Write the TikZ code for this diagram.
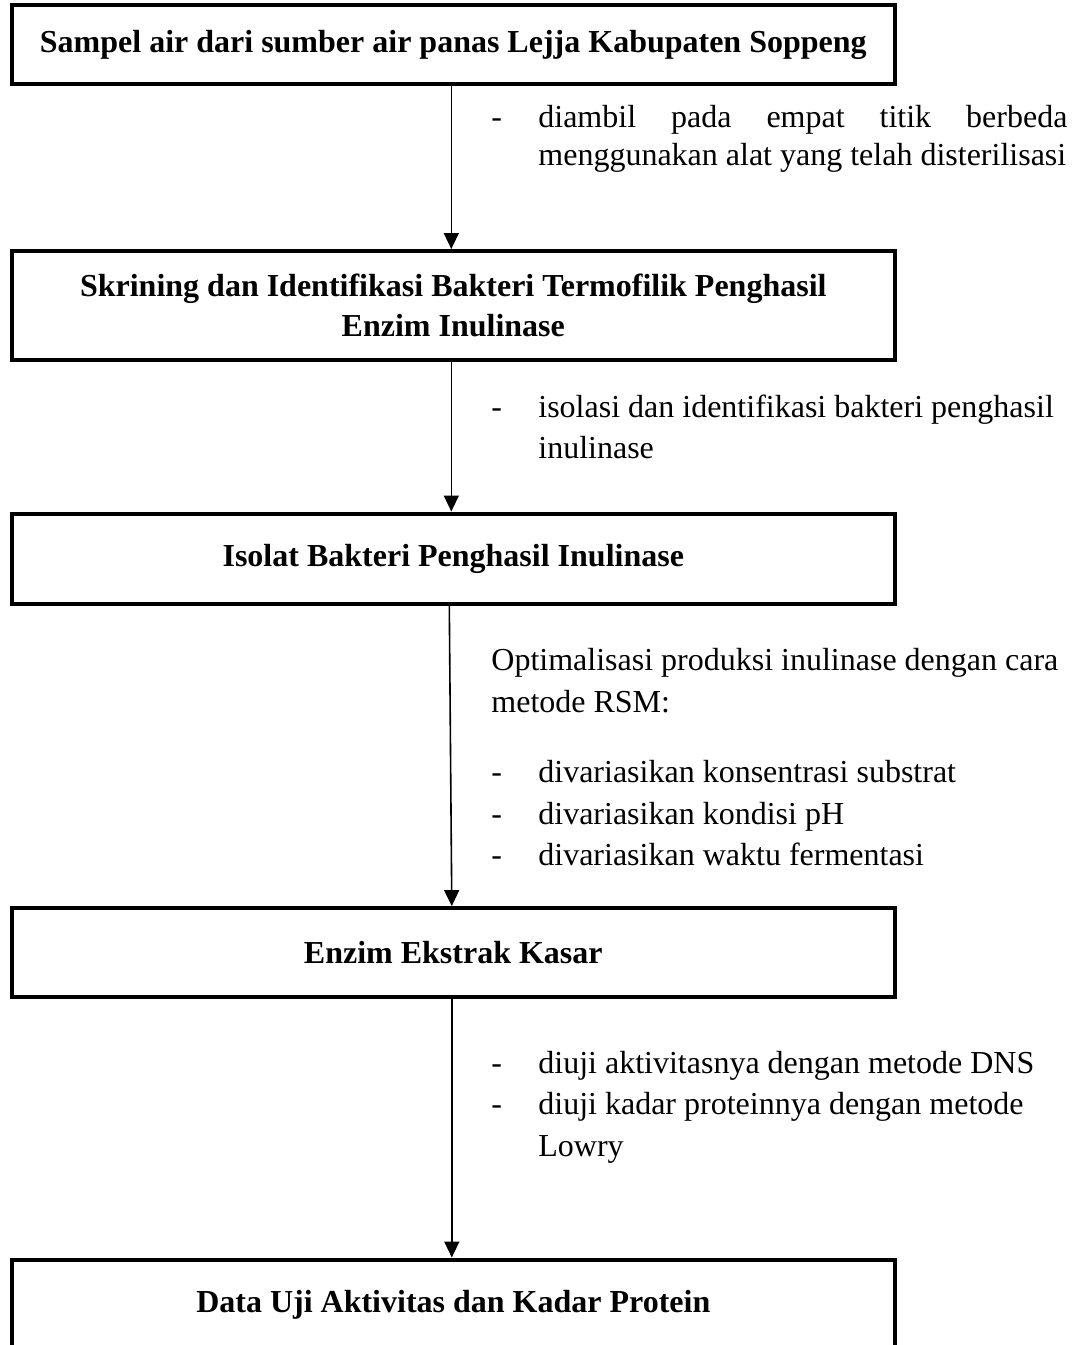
\documentclass[tikz,border=0pt]{standalone}
\usepackage{fontspec}
\setmainfont{Liberation Serif}
\usetikzlibrary{arrows.meta}
\newcommand\dashit{\makebox[23.5pt][l]{-}}
\begin{document}
\begin{tikzpicture}[x=0.5pt,y=-0.5pt,
  box/.style={draw, line width=2pt, minimum width=441.65pt, inner sep=0pt,
    font=\bfseries\fontsize{16pt}{20pt}\selectfont, align=center},
  side/.style={inner sep=0pt, anchor=base west, font=\fontsize{16pt}{20.5pt}\selectfont},
  conn/.style={line width=0.8pt, -{Triangle[length=8pt,width=7.5pt]}}]
\useasboundingbox (0,0) rectangle (1078,1345);
\clip (0,0) rectangle (1078,1345);

\node[box, minimum height=39.5pt] (b1) at (453.3,44.7) {Sampel air dari sumber air panas Lejja Kabupaten Soppeng};
\node[box, minimum height=54.5pt] (b2) at (453.3,305.5) {Skrining dan Identifikasi Bakteri Termofilik Penghasil\\Enzim Inulinase};
\node[box, minimum height=45pt] (b3) at (453.3,558.5) {Isolat Bakteri Penghasil Inulinase};
\node[box, minimum height=44.25pt] (b4) at (453.3,952.3) {Enzim Ekstrak Kasar};
\node[box, minimum height=45pt] (b5) at (453.3,1304.5) {Data Uji Aktivitas dan Kadar Protein};

\draw[conn] ([xshift=-1pt]b1.south) -- ([xshift=-1pt]b2.north);
\draw[conn] ([xshift=-1pt]b2.south) -- ([xshift=-1pt]b3.north);
\draw[conn] ([xshift=-2pt]b3.south) -- ([xshift=-0.75pt]b4.north);
\draw[conn] ([xshift=-0.75pt]b4.south) -- ([xshift=-0.75pt]b5.north);

\node[side] (s1a) at (491,127) {\dashit\makebox[264.5pt][s]{diambil pada empat titik berbeda}};
\node[side] (s1b) at (538,165) {menggunakan alat yang telah disterilisasi};

\node[side] (s2a) at (491,417) {\dashit isolasi dan identifikasi bakteri penghasil};
\node[side] (s2b) at (538,458) {inulinase};

\node[side] (s3a) at (491,670) {Optimalisasi produksi inulinase dengan cara};
\node[side] (s3b) at (491,712) {metode RSM:};
\node[side] (s3c) at (491,782) {\dashit divariasikan konsentrasi substrat};
\node[side] (s3d) at (491,824) {\dashit divariasikan kondisi pH};
\node[side] (s3e) at (491,865) {\dashit divariasikan waktu fermentasi};

\node[side] (s4a) at (491,1073) {\dashit diuji aktivitasnya dengan metode DNS};
\node[side] (s4b) at (491,1114) {\dashit diuji kadar proteinnya dengan metode};
\node[side] (s4c) at (538,1156) {Lowry};
\end{tikzpicture}
\end{document}
